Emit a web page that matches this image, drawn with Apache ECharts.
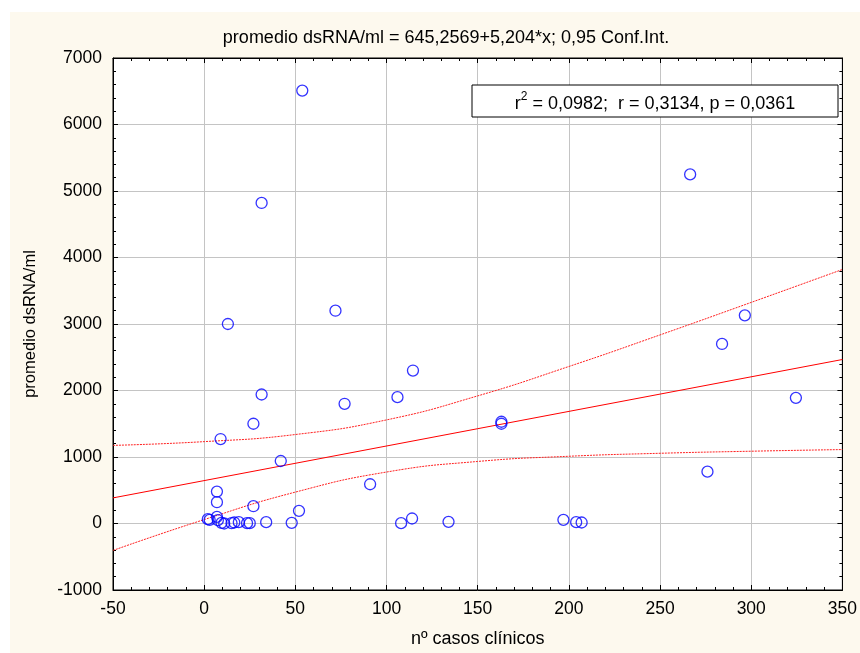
<!DOCTYPE html>
<html>
<head>
<meta charset="utf-8">
<script src="https://cdn.jsdelivr.net/npm/echarts@6/dist/echarts.min.js"></script>
<style>
  html, body { margin: 0; padding: 0; background: #ffffff; }
  #bg { position: absolute; left: 10px; top: 12px; width: 850px; height: 641px; background: #fdf9ee; }
  #chart { position: absolute; left: 0; top: 0; width: 860px; height: 653px; }
</style>
</head>
<body>
<div id="bg"></div>
<div id="chart"></div>
<script>
// ---- data ----
var casosX = [53.8, 31.5, 266.5, 13, 72, 296.5, 284, 114.5, 31.5, 77, 106, 324.5, 163, 163, 9, 27, 42, 276, 91, 7, 7, 27, 52,
              2, 3, 7, 7.5, 9.5, 11, 15, 16.5, 19, 23.5, 25, 34, 48, 108, 114, 134, 197, 204, 207];
var dsRNA  = [6510, 4820, 5250, 3000, 3200, 3130, 2700, 2300, 1940, 1800, 1900, 1890, 1530, 1500, 1270, 1500, 940, 780, 590, 480, 320, 260, 190,
              65, 55, 100, 50, 10, 0, 5, 15, 20, 5, 5, 20, 10, 5, 75, 25, 55, 20, 15];
var fitX = [-50, 350];
var fitY = [385, 2466];
var bandX = [-50, 0, 50, 100, 150, 200, 250, 300, 350];
var upperY = [1175, 1231, 1338, 1558, 1919, 2361, 2836, 3325, 3820];
var lowerY = [-405, 59, 472, 774, 933, 1011, 1056, 1087, 1112];
var xTicks = [-50, 0, 50, 100, 150, 200, 250, 300, 350];
var yTicks = [-1000, 0, 1000, 2000, 3000, 4000, 5000, 6000, 7000];

var titleText = 'promedio dsRNA/ml = 645,2569+5,204*x; 0,95 Conf.Int.';
var xName = 'nº casos clínicos';
var yName = 'promedio dsRNA/ml';

function pairs(a, b) { return a.map(function (v, i) { return [v, b[i]]; }); }

var FONT = '"Liberation Sans", Arial, sans-serif';
var chart = echarts.init(document.getElementById('chart'), null, { renderer: 'canvas' });

var tickCommon = { show: true, inside: true, length: 5, lineStyle: { color: '#000', width: 1 } };
var minorCommon = { show: true, splitNumber: 5, length: 3, lineStyle: { color: '#000', width: 1 } };
var lineCommon = { show: true, onZero: false, lineStyle: { color: '#000', width: 1 } };
function plain(v) { return String(v); }

chart.setOption({
  animation: false,
  backgroundColor: 'transparent',
  title: {
    text: titleText,
    left: 441, top: 24, textAlign: 'center',
    textStyle: { fontFamily: FONT, fontSize: 18, fontWeight: 'normal', color: '#000' }
  },
  grid: {
    left: 113, top: 58, right: 15, bottom: 61,
    show: true, backgroundColor: '#ffffff', borderColor: '#000', borderWidth: 1
  },
  xAxis: [{
    type: 'value', min: xTicks[0], max: xTicks[xTicks.length - 1], interval: 50,
    position: 'bottom',
    name: xName, nameLocation: 'middle', nameGap: 40,
    nameTextStyle: { fontFamily: FONT, fontSize: 18, color: '#000' },
    axisLine: lineCommon,
    axisTick: tickCommon, minorTick: minorCommon,
    splitLine: { show: true, lineStyle: { color: '#c4c4c4', width: 1 } },
    axisLabel: { fontFamily: FONT, fontSize: 17.5, color: '#000', margin: 10, formatter: plain }
  }, {
    type: 'value', min: xTicks[0], max: xTicks[xTicks.length - 1], interval: 50,
    position: 'top',
    axisLine: lineCommon,
    axisTick: tickCommon, minorTick: minorCommon,
    splitLine: { show: false }, axisLabel: { show: false }
  }],
  yAxis: [{
    type: 'value', min: yTicks[0], max: yTicks[yTicks.length - 1], interval: 1000,
    position: 'left',
    name: yName, nameLocation: 'middle', nameGap: 74,
    nameTextStyle: { fontFamily: FONT, fontSize: 16.5, color: '#000' },
    axisLine: lineCommon,
    axisTick: tickCommon, minorTick: minorCommon,
    splitLine: { show: true, lineStyle: { color: '#c4c4c4', width: 1 } },
    axisLabel: { fontFamily: FONT, fontSize: 17.5, color: '#000', margin: 11, formatter: plain }
  }, {
    type: 'value', min: yTicks[0], max: yTicks[yTicks.length - 1], interval: 1000,
    position: 'right',
    axisLine: lineCommon,
    axisTick: tickCommon, minorTick: minorCommon,
    splitLine: { show: false }, axisLabel: { show: false }
  }],
  series: [{
    type: 'line', name: 'upper', data: pairs(bandX, upperY), smooth: true, showSymbol: false,
    lineStyle: { color: '#ff2020', width: 1, type: [2, 1] }, z: 3
  }, {
    type: 'line', name: 'lower', data: pairs(bandX, lowerY), smooth: true, showSymbol: false,
    lineStyle: { color: '#ff2020', width: 1, type: [2, 1] }, z: 3
  }, {
    type: 'line', name: 'fit', data: pairs(fitX, fitY), showSymbol: false,
    lineStyle: { color: '#ff0000', width: 1 }, z: 3
  }, {
    type: 'scatter', name: 'data', data: pairs(casosX, dsRNA),
    symbol: 'circle', symbolSize: 11,
    itemStyle: { color: 'rgba(0,0,0,0)', borderColor: '#0000ff', borderWidth: 1.3 }, z: 4
  }],
  graphic: [{
    type: 'rect', x: 472, y: 85, z: 100,
    shape: { x: 0, y: 0, width: 366, height: 32 },
    style: { fill: '#ffffff', stroke: '#000', lineWidth: 1 }
  }, {
    type: 'text', x: 655, y: 102, z: 101,
    style: {
      x: 0, y: 0, align: 'center', verticalAlign: 'middle',
      text: '{n|r}{s|2}{n| = 0,0982;  r = 0,3134, p = 0,0361}',
      rich: {
        n: { fontFamily: FONT, fontSize: 18, fill: '#000', verticalAlign: 'bottom', lineHeight: 22 },
        s: { fontFamily: FONT, fontSize: 12, fill: '#000', verticalAlign: 'top', lineHeight: 22 }
      }
    }
  }]
});
</script>
</body>
</html>
